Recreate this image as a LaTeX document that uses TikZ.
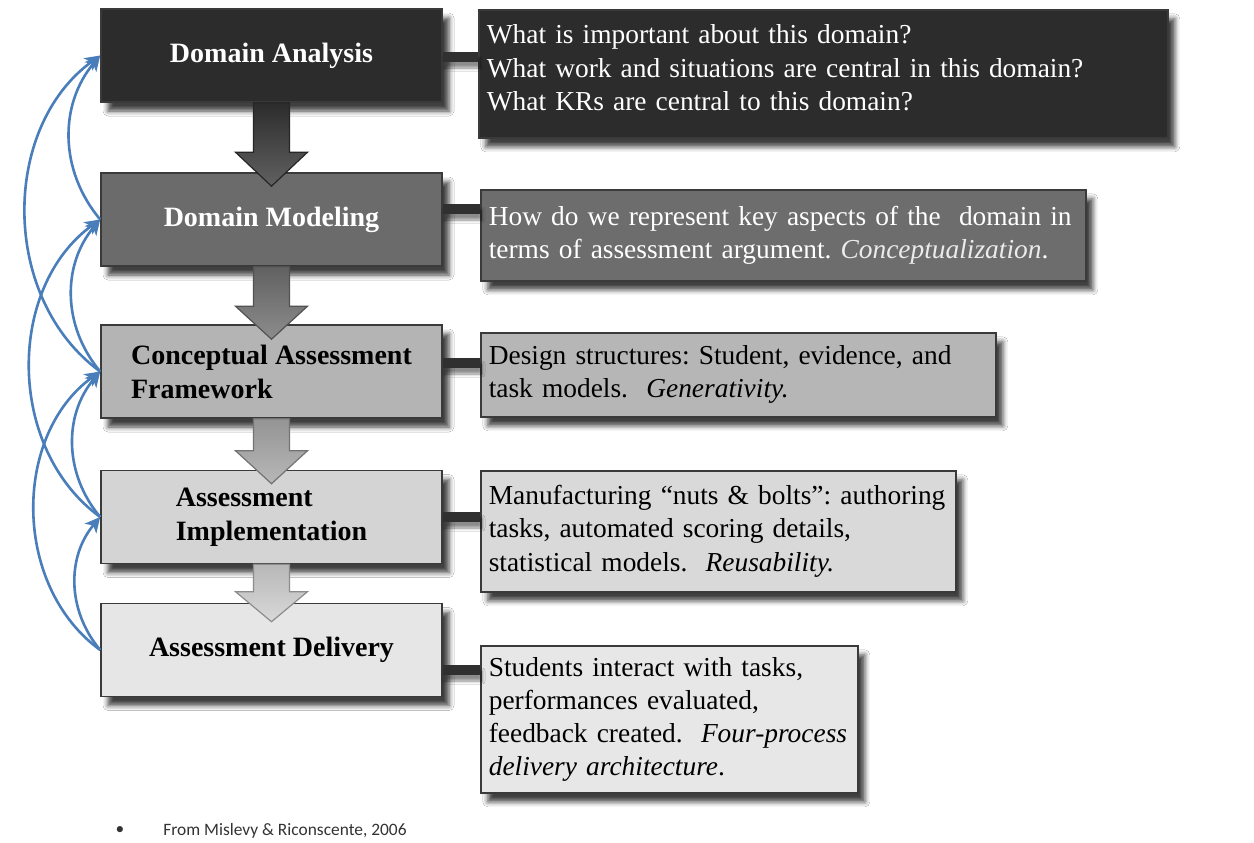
\documentclass[tikz,border=0pt]{standalone}
\usepackage{fontspec}
\setmainfont{Liberation Serif}
\newfontfamily\notefont{Carlito}
\usetikzlibrary{calc,arrows.meta,shadows.blur}

\definecolor{stageone}{HTML}{2C2C2C}
\definecolor{stagetwo}{HTML}{6B6B6B}
\definecolor{stagethree}{HTML}{B4B4B4}
\definecolor{stagefour}{HTML}{D4D4D4}
\definecolor{stagefive}{HTML}{E6E6E6}
\definecolor{noteone}{HTML}{2C2C2C}
\definecolor{notetwo}{HTML}{6D6D6D}
\definecolor{notethree}{HTML}{B6B6B6}
\definecolor{notefour}{HTML}{D9D9D9}
\definecolor{notefive}{HTML}{E7E7E7}
\definecolor{frame}{HTML}{3A3A3A}
\definecolor{barcol}{HTML}{303030}
\definecolor{loopblue}{HTML}{4A7EBB}

% block arrow from the bottom of one stage into the top of the next
\newcommand\flowarrow[5]{%
  \path[#5] ($(#1.south)+(-18,0)$) -- ($(#1.south)+(18,0)$)
    -- ($(#2.north)+(18,-#3)$) -- ($(#2.north)+(36,-#3)$)
    -- ($(#2.north)+(0,#4)$)
    -- ($(#2.north)+(-36,-#3)$) -- ($(#2.north)+(-18,-#3)$) -- cycle;}

% thick bar joining a stage to its note, at height #3 (px)
\newcommand\notebar[3]{%
  \path[fill=barcol, barshadow] ($(#1.east |- 0,#3)+(0,-5)$) rectangle ($(#2.west |- 0,#3)+(0,5)$);}

\begin{document}
\frenchspacing
\hyphenpenalty=10000
\exhyphenpenalty=10000
\begin{tikzpicture}[x=0.5pt,y=-0.5pt,
  softshadow/.style={blur shadow={shadow xshift=3.5pt,shadow yshift=-4.5pt,
      shadow blur radius=2.5pt,shadow opacity=75}},
  barshadow/.style={blur shadow={shadow xshift=1pt,shadow yshift=-3pt,
      shadow blur radius=1.5pt,shadow opacity=45}},
  stagebox/.style={rectangle, draw=frame, line width=0.8pt, fill=#1,
      minimum width=170.5pt, minimum height=46.5pt, inner sep=4pt,
      align=left, font=\fontsize{14}{17}\selectfont\bfseries, softshadow},
  notebox/.style={rectangle, draw=frame, line width=0.8pt, fill=#1,
      anchor=north west, inner xsep=4pt, inner ysep=3pt, align=left,
      font=\fontsize{13.7}{16.6}\selectfont, softshadow},
  loop/.style={draw=loopblue, line width=1.3pt,
      -{Stealth[length=7.5pt,width=7.5pt,inset=2pt]}}
]
\fill[white] (0,0) rectangle (1254,842);
\useasboundingbox (0,0) rectangle (1254,842);

% stages
\node[stagebox=stageone, text=white]   (b1) at (271.5,55.5)  {Domain Analysis};
\node[stagebox=stagetwo, text=white]   (b2) at (271.5,219.5) {Domain Modeling};
\node[stagebox=stagethree, text=black] (b3) at (271.5,371.5) {Conceptual Assessment\\Framework};
\node[stagebox=stagefour, text=black]  (b4) at (271.5,517)   {Assessment\\Implementation};
\node[stagebox=stagefive, text=black]  (b5) at (271.5,650)   {Assessment Delivery};

% notes
\node[notebox=noteone, text=white, minimum width=344.5pt, text width=336.5pt,
      minimum height=64pt] (r1) at (478,9)
  {What is important about this domain?\\
   What work and situations are central in this domain?\\
   What KRs are central to this domain?\par\vspace{6pt}};
\node[notebox=notetwo, text=white, minimum width=302.5pt, text width=294.5pt,
      minimum height=45.5pt] (r2) at (480,189)
  {How do we represent key aspects of the\ \ domain in\\
   terms of assessment argument. \textit{\color{black!8}Conceptualization}.};
\node[notebox=notethree, text=black, minimum width=257.5pt, text width=249.5pt,
      minimum height=42pt] (r3) at (480,332)
  {Design structures: Student, evidence, and\\
   task models.\ \ \textit{Generativity.}};
\node[notebox=notefour, text=black, minimum width=237.5pt, text width=229.5pt,
      minimum height=60.5pt] (r4) at (480,470)
  {Manufacturing “nuts \& bolts”: authoring\\
   tasks, automated scoring details,\\
   statistical models.\ \ \textit{Reusability.}};
\node[notebox=notefive, text=black, minimum width=188.5pt, text width=180.5pt,
      minimum height=73.5pt] (r5) at (480,645)
  {Students interact with tasks,\\
   performances evaluated,\\
   feedback created.\ \ \textit{Four-process}\\
   \textit{delivery architecture}.};

% bars from stages to notes
\notebar{b1}{r1}{57}
\notebar{b2}{r2}{209}
\notebar{b3}{r3}{363}
\notebar{b4}{r4}{517}
\notebar{b5}{r5}{670}

% flow arrows between stages
\flowarrow{b1}{b2}{20}{14}{top color=stageone, bottom color=black!62, draw=black!85, line width=0.6pt}
\flowarrow{b2}{b3}{18}{15}{top color=black!62, bottom color=black!45, draw=black!68, line width=0.6pt}
\flowarrow{b3}{b4}{19}{14}{top color=black!42, bottom color=black!28, draw=black!55, line width=0.6pt}
\flowarrow{b4}{b5}{11}{19}{top color=black!28, bottom color=black!15, draw=black!45, line width=0.6pt}

% feedback loops back to earlier stages
\draw[loop] (b2.west) to[bend left=40] (b1.west);
\draw[loop] (b3.west) to[bend left=40] (b2.west);
\draw[loop] (b4.west) to[bend left=40] (b3.west);
\draw[loop] (b5.west) to[bend left=40] (b4.west);
\draw[loop] (b3.west) to[bend left=54] (b1.west);
\draw[loop] (b4.west) to[bend left=54] (b2.west);
\draw[loop] (b5.west) to[bend left=54] (b3.west);

% source
\node[font=\notefont\fontsize{8.7}{10}\selectfont, text=black!80] (dot) at (120,831) {•};
\node[font=\notefont\fontsize{8.7}{10}\selectfont, text=black!80, anchor=west, inner sep=0pt]
  (cite) at (163,831) {From Mislevy \& Riconscente, 2006};
\end{tikzpicture}
\end{document}
